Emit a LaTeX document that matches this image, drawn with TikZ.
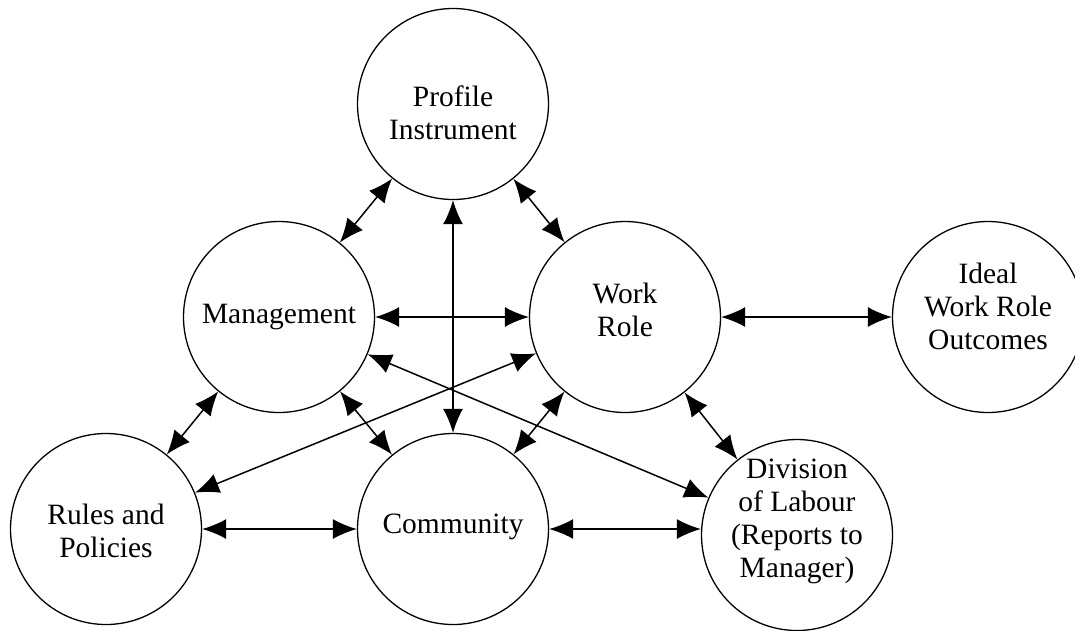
\documentclass[tikz,border=0pt]{standalone}
\usepackage{fontspec}
\setmainfont{Liberation Serif}
\usetikzlibrary{arrows.meta}
\begin{document}
\begin{tikzpicture}[x=1pt,y=-1pt,
  bubble/.style={circle,draw,line width=1.3pt,minimum size=191pt,inner sep=0pt},
  txt/.style={align=center,font=\fontsize{29.5}{33}\selectfont,inner sep=0pt},
  link/.style={line width=1.5pt,{Latex[length=24pt,width=20pt]}-{Latex[length=24pt,width=20pt]}}]
\useasboundingbox (0,0) rectangle (1075,630);
\node[bubble] (pi) at (453,104) {};
\node[bubble] (mg) at (279,317) {};
\node[bubble] (wr) at (625,317) {};
\node[bubble] (iw) at (988,317) {};
\node[bubble] (rp) at (106,529) {};
\node[bubble] (cm) at (453,529) {};
\node[bubble] (dl) at (797,535) {};
\node[txt] (pit) at (453,113) {Profile\\Instrument};
\node[txt] (mgt) at (279,317) {Management};
\node[txt] (wrt) at (625,310) {Work\\Role};
\node[txt] (iwt) at (988,306) {Ideal\\Work Role\\Outcomes};
\node[txt] (rpt) at (106,531) {Rules and\\Policies};
\node[txt] (cmt) at (453,527) {Community};
\node[txt] (dlt) at (797,521) {Division\\of Labour\\(Reports to\\Manager)};
\draw[link] (pi) -- (mg);
\draw[link] (pi) -- (wr);
\draw[link] (pi.south) -- (cm.north);
\draw[link] (mg) -- (wr);
\draw[link] (wr) -- (iw);
\draw[link] (mg) -- (rp);
\draw[link] (mg) -- (cm);
\draw[link] (wr) -- (cm);
\draw[link] (wr) -- (dl);
\draw[link] (rp) -- (cm);
\draw[link] (cm.east) -- (cm.east -| dl.west);
\draw[link] (mg) -- (dl);
\draw[link] (wr) -- (rp);
\end{tikzpicture}
\end{document}
